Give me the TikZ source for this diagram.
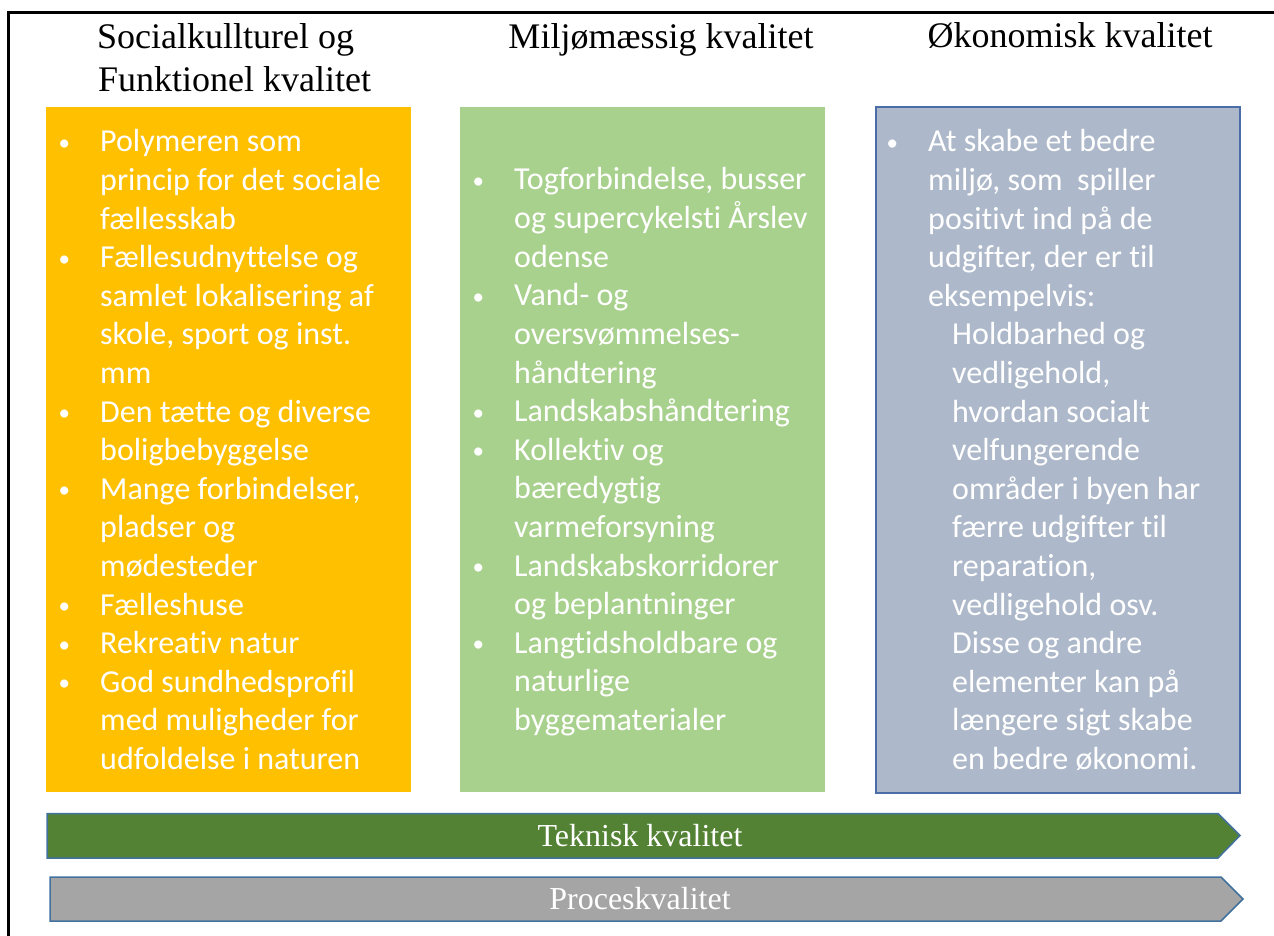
\documentclass[tikz,border=0pt]{standalone}
\usepackage{graphicx}
\usepackage{fontspec}
\setmainfont{Liberation Serif}
\newfontfamily\boxfont[Ligatures={NoCommon}]{Carlito}
\definecolor{socfill}{HTML}{FFC000}
\definecolor{miljofill}{HTML}{A9D18E}
\definecolor{okofill}{HTML}{ADB9CA}
\definecolor{okoline}{HTML}{4A6DA7}
\definecolor{tekfill}{HTML}{548235}
\definecolor{procfill}{HTML}{A5A5A5}
\definecolor{arrline}{HTML}{41719C}
\newcommand{\mybul}{\llap{\raisebox{1.5pt}{\scalebox{0.72}{\textbullet}}\hspace{30pt}}}
\newcommand{\subind}{\hspace*{24pt}}
\begin{document}
\begin{tikzpicture}[x=1pt,y=-1pt,
  panel/.style={anchor=north west, inner sep=0pt, outer sep=0pt, minimum width=365pt, minimum height=685pt},
  listtext/.style={anchor=base west, inner sep=0pt, text=white, font=\boxfont\fontsize{32}{38.6}\selectfont},
  header/.style={inner sep=0pt, text=black, font=\fontsize{36}{43}\selectfont},
  banner/.style={draw=arrline, line width=1.5pt},
  bannertext/.style={inner sep=0pt, anchor=base, text=white, font=\fontsize{32}{38}\selectfont}
]
\useasboundingbox (0,0) rectangle (1274,936);
% frame
\draw[line width=3pt] (8.5,936) -- (8.5,12.5) -- (1274,12.5);

% headers
\node[header, anchor=base west] (h1a) at (97,49) {Socialkullturel og};
\node[header, anchor=base west] (h1b) at (98,92) {Funktionel kvalitet};
\node[header, anchor=base] (h2) at (661,49) {Miljømæssig kvalitet};
\node[header, anchor=base] (h3) at (1070,48) {Økonomisk kvalitet};

% panels
\node[panel, fill=socfill] (soc) at (46,107) {};
\node[panel, fill=miljofill] (miljo) at (460,107) {};
\node[panel, fill=okofill, draw=okoline, line width=1.5pt, minimum width=364pt, minimum height=686pt] (oko) at (876,107) {};

\node[listtext] (soctext) at (100,152) {\begin{tabular}[t]{@{}l@{}}
\mybul Polymeren som\\
princip for det sociale\\
fællesskab\\
\mybul Fællesudnyttelse og\\
samlet lokalisering af\\
skole, sport og inst.\\
mm\\
\mybul Den tætte og diverse\\
boligbebyggelse\\
\mybul Mange forbindelser,\\
pladser og\\
mødesteder\\
\mybul Fælleshuse\\
\mybul Rekreativ natur\\
\mybul God sundhedsprofil\\
med muligheder for\\
udfoldelse i naturen
\end{tabular}};

\node[listtext] (miljotext) at (514,190) {\begin{tabular}[t]{@{}l@{}}
\mybul Togforbindelse, busser\\
og supercykelsti Årslev\\
odense\\
\mybul Vand- og\\
oversvømmelses-\\
håndtering\\
\mybul Landskabshåndtering\\
\mybul Kollektiv og\\
bæredygtig\\
varmeforsyning\\
\mybul Landskabskorridorer\\
og beplantninger\\
\mybul Langtidsholdbare og\\
naturlige\\
byggematerialer
\end{tabular}};

\node[listtext] (okotext) at (928,152) {\begin{tabular}[t]{@{}l@{}}
\mybul At skabe et bedre\\
miljø, som\ \ spiller\\
positivt ind på de\\
udgifter, der er til\\
eksempelvis:\\
\subind Holdbarhed og\\
\subind vedligehold,\\
\subind hvordan socialt\\
\subind velfungerende\\
\subind områder i byen har\\
\subind færre udgifter til\\
\subind reparation,\\
\subind vedligehold osv.\\
\subind Disse og andre\\
\subind elementer kan på\\
\subind længere sigt skabe\\
\subind en bedre økonomi.
\end{tabular}};

% banners
\draw[banner, fill=tekfill] (47,813.5) -- (1218,813.5) -- (1240,835.5) -- (1218,858) -- (47,858) -- cycle;
\node[bannertext] (tek) at (640,846) {Teknisk kvalitet};
\draw[banner, fill=procfill] (50,877) -- (1221,877) -- (1243,899) -- (1221,921) -- (50,921) -- cycle;
\node[bannertext] (proc) at (640,909.5) {Proceskvalitet};
\end{tikzpicture}
\end{document}
